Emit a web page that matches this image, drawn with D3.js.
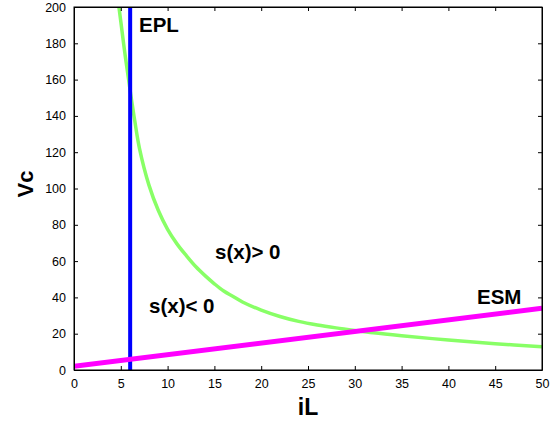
<!DOCTYPE html>
<html>
<head>
<meta charset="utf-8">
<script src="https://cdn.jsdelivr.net/npm/d3@7"></script>
<style>
  body { margin: 0; background: #fff; }
  text { font-family: Arial, "Liberation Sans", sans-serif; }
</style>
</head>
<body>
<div id="chart"></div>
<script>
// curve s(x)=0
var curveX = [4.8, 5, 5.5, 6, 6.5, 7, 8, 9, 10, 11, 12, 13, 14, 15, 16, 17, 18, 20, 22, 24, 26, 28, 30, 32, 35, 40, 45, 50];
var curveY = [200, 192, 172, 154, 137, 122, 102, 88, 77.5, 69.5, 63, 57, 52, 47.5, 43.5, 40.5, 37.5, 33, 29.5, 26.8, 24.8, 23.2, 21.8, 20.5, 18.9, 16.5, 14.5, 12.8];
// EPL vertical line
var eplX = [6, 6];
var eplY = [0, 200];
// ESM line
var esmX = [0, 50];
var esmY = [2, 34];

var xTicks = [0, 5, 10, 15, 20, 25, 30, 35, 40, 45, 50];
var yTicks = [0, 20, 40, 60, 80, 100, 120, 140, 160, 180, 200];

var width = 559, height = 423,
    margin = { left: 74, right: 17, top: 7, bottom: 53 };
var ww = width - margin.left - margin.right,
    hh = height - margin.top - margin.bottom;

function translate(x, y) { return "translate(" + x + "," + y + ")"; }

var xScale = d3.scaleLinear().domain([0, 50]).range([0, ww]);
var yScale = d3.scaleLinear().domain([0, 200]).range([hh, 0]);

var svg = d3.select("#chart").append("svg")
    .attr("width", width).attr("height", height);

var g = svg.append("g").attr("transform", translate(margin.left, margin.top));

g.append("clipPath").attr("id", "clip")
  .append("rect").attr("width", ww).attr("height", hh);

var line = d3.line()
    .x(function(d) { return xScale(d[0]); })
    .y(function(d) { return yScale(d[1]); });

var plot = g.append("g").attr("clip-path", "url(#clip)");

plot.append("path")
    .datum(d3.zip(curveX, curveY))
    .attr("d", line.curve(d3.curveCatmullRom))
    .attr("fill", "none").attr("stroke", "#88ff66").attr("stroke-width", 3.5);

line.curve(d3.curveLinear);
plot.append("path")
    .datum(d3.zip(eplX, eplY))
    .attr("d", line)
    .attr("fill", "none").attr("stroke", "#0000ff").attr("stroke-width", 4);

plot.append("path")
    .datum(d3.zip(esmX, esmY))
    .attr("d", line)
    .attr("fill", "none").attr("stroke", "#ff00ff").attr("stroke-width", 5);

// axes, MATLAB style: inward ticks on all four sides
var xAxis = d3.axisBottom(xScale).tickValues(xTicks).tickSizeInner(-4).tickSizeOuter(0).tickPadding(9);
var yAxis = d3.axisLeft(yScale).tickValues(yTicks).tickSizeInner(-4).tickSizeOuter(0).tickPadding(8);

g.append("g").attr("transform", translate(0, hh)).call(xAxis);
g.append("g").call(yAxis);
g.append("g").call(d3.axisTop(xScale).tickValues(xTicks).tickSizeInner(-4).tickSizeOuter(0).tickFormat(""));
g.append("g").attr("transform", translate(ww, 0))
  .call(d3.axisRight(yScale).tickValues(yTicks).tickSizeInner(-4).tickSizeOuter(0).tickFormat(""));

g.selectAll(".domain").attr("stroke", "#000");
g.selectAll(".tick line").attr("stroke", "#000");
g.selectAll(".tick text").attr("font-size", 12.5).attr("fill", "#000")
  .attr("font-family", "Arial, 'Liberation Sans', sans-serif");

g.append("rect").attr("width", ww).attr("height", hh)
    .attr("fill", "none").attr("stroke", "#000");

// annotations
var notes = [
  { t: "EPL", x: 139, y: 32 },
  { t: "s(x)> 0", x: 215, y: 259 },
  { t: "s(x)< 0", x: 149, y: 313 },
  { t: "ESM", x: 477, y: 304 }
];
svg.selectAll(".note").data(notes).enter().append("text")
    .attr("class", "note")
    .attr("x", function(d) { return d.x; })
    .attr("y", function(d) { return d.y; })
    .attr("font-size", 20.5).attr("font-weight", "bold")
    .text(function(d) { return d.t; });

svg.append("text").attr("x", 308).attr("y", 415)
    .attr("text-anchor", "middle").attr("font-size", 23).attr("font-weight", "bold")
    .text("iL");

svg.append("text").attr("transform", "translate(33,184) rotate(-90)")
    .attr("text-anchor", "middle").attr("font-size", 22).attr("font-weight", "bold")
    .text("Vc");
</script>
</body>
</html>
